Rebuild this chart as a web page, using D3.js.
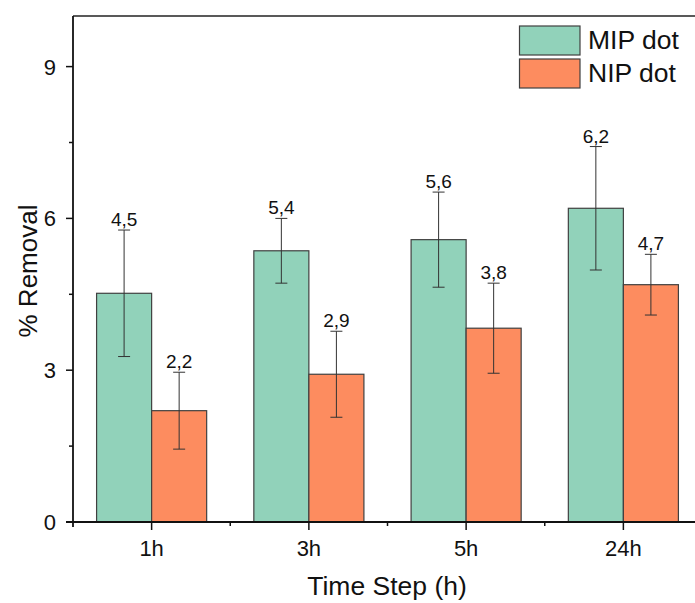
<!DOCTYPE html>
<html>
<head>
<meta charset="utf-8">
<script src="https://cdn.jsdelivr.net/npm/d3@7"></script>
<style>
  html, body { margin: 0; padding: 0; background: #fff; overflow: hidden; }
  svg { display: block; font-family: "Liberation Sans", Arial, sans-serif; }
</style>
</head>
<body>
<svg id="chart" width="695" height="603"></svg>
<script>
// Removal per time step, mean and error for each material
const categories = ["1h", "3h", "5h", "24h"];
const mipValues = [4.52, 5.36, 5.58, 6.20];
const mipErrors = [1.25, 0.64, 0.94, 1.22];
const nipValues = [2.20, 2.92, 3.83, 4.69];
const nipErrors = [0.76, 0.85, 0.89, 0.60];
const seriesNames = ["MIP dot", "NIP dot"];
const yTicks = [0, 3, 6, 9];
const yMinorTicks = [1.5, 4.5, 7.5];

const colors = ["#91d2ba", "#fd8c5f"];
const svg = d3.select("#chart");

const plotLeft = 73, plotRight = 702, plotTop = 16, plotBottom = 522;
const x = d3.scaleLinear().domain([0.5, categories.length + 0.5]).range([plotLeft, plotRight]);
const y = d3.scaleLinear().domain([0, 10]).range([plotBottom, plotTop]);
const barW = 0.35;

const series = [
  { name: seriesNames[0], values: mipValues, errors: mipErrors, offset: -barW, color: colors[0] },
  { name: seriesNames[1], values: nipValues, errors: nipErrors, offset: 0, color: colors[1] }
];

const fmt = v => d3.format(".1f")(v).replace(".", ",");

// bars
series.forEach(s => {
  const g = svg.append("g");
  g.selectAll("rect").data(s.values).join("rect")
    .attr("x", (d, i) => x(i + 1 + s.offset))
    .attr("width", x(1 + barW) - x(1))
    .attr("y", d => y(d))
    .attr("height", d => y(0) - y(d))
    .attr("fill", s.color)
    .attr("stroke", "#404040")
    .attr("stroke-width", 1.2);
});

// error bars and value labels
series.forEach(s => {
  const g = svg.append("g");
  s.values.forEach((v, i) => {
    const cx = x(i + 1 + s.offset + barW / 2);
    const hi = y(v + s.errors[i]), lo = y(v - s.errors[i]);
    g.append("line").attr("x1", cx).attr("x2", cx).attr("y1", hi).attr("y2", lo)
      .attr("stroke", "#333").attr("stroke-width", 1);
    [hi, lo].forEach(yy => g.append("line")
      .attr("x1", cx - 6).attr("x2", cx + 6).attr("y1", yy).attr("y2", yy)
      .attr("stroke", "#333").attr("stroke-width", 1));
    g.append("text").attr("x", cx).attr("y", hi - 4)
      .attr("text-anchor", "middle").attr("font-size", 19).attr("fill", "#111")
      .text(fmt(v));
  });
});

// top frame
svg.append("line").attr("x1", plotLeft).attr("x2", plotRight).attr("y1", plotTop).attr("y2", plotTop)
  .attr("stroke", "#222").attr("stroke-width", 1.5);

// y axis
const yAxis = svg.append("g").attr("transform", `translate(${plotLeft},0)`);
yAxis.append("line").attr("x1", 0).attr("x2", 0).attr("y1", plotTop).attr("y2", plotBottom + 5)
  .attr("stroke", "#111").attr("stroke-width", 1.8);
yAxis.selectAll(".maj").data(yTicks).join("line")
  .attr("x1", -7).attr("x2", 0).attr("y1", d => y(d)).attr("y2", d => y(d))
  .attr("stroke", "#111").attr("stroke-width", 1.5);
yAxis.selectAll(".min").data(yMinorTicks).join("line")
  .attr("x1", -4).attr("x2", 0).attr("y1", d => y(d)).attr("y2", d => y(d))
  .attr("stroke", "#111").attr("stroke-width", 1.5);
yAxis.selectAll("text").data(yTicks).join("text")
  .attr("x", -17).attr("y", d => y(d)).attr("dy", "0.36em")
  .attr("text-anchor", "end").attr("font-size", 22).attr("fill", "#111")
  .text(d => d);

// x axis
const xAxis = svg.append("g").attr("transform", `translate(0,${plotBottom})`);
xAxis.append("line").attr("x1", plotLeft - 7).attr("x2", plotRight).attr("y1", 0).attr("y2", 0)
  .attr("stroke", "#111").attr("stroke-width", 1.8);
xAxis.selectAll(".maj").data(categories).join("line")
  .attr("x1", (d, i) => x(i + 1)).attr("x2", (d, i) => x(i + 1))
  .attr("y1", 0).attr("y2", 8).attr("stroke", "#111").attr("stroke-width", 1.5);
xAxis.selectAll(".min").data(categories.slice(1)).join("line")
  .attr("x1", (d, i) => x(i + 1.5)).attr("x2", (d, i) => x(i + 1.5))
  .attr("y1", 0).attr("y2", 4).attr("stroke", "#111").attr("stroke-width", 1.5);
xAxis.selectAll("text").data(categories).join("text")
  .attr("x", (d, i) => x(i + 1)).attr("y", 33.5)
  .attr("text-anchor", "middle").attr("font-size", 22).attr("fill", "#111")
  .text(d => d);

// axis titles
svg.append("text").attr("x", 387).attr("y", 595)
  .attr("text-anchor", "middle").attr("font-size", 26.5).attr("fill", "#111")
  .text("Time Step (h)");
svg.append("text").attr("transform", `translate(37,${(plotTop + plotBottom) / 2 + 2}) rotate(-90)`)
  .attr("text-anchor", "middle").attr("font-size", 26).attr("fill", "#111")
  .text("% Removal");

// legend
const legend = svg.append("g");
series.forEach((s, i) => {
  legend.append("rect").attr("x", 519.5).attr("y", 26 + i * 33).attr("width", 60.5).attr("height", 29)
    .attr("fill", s.color).attr("stroke", "#404040").attr("stroke-width", 1.2);
  legend.append("text").attr("x", 588).attr("y", 48.5 + i * 33)
    .attr("font-size", 26.5).attr("fill", "#111").text(s.name);
});
</script>
</body>
</html>
